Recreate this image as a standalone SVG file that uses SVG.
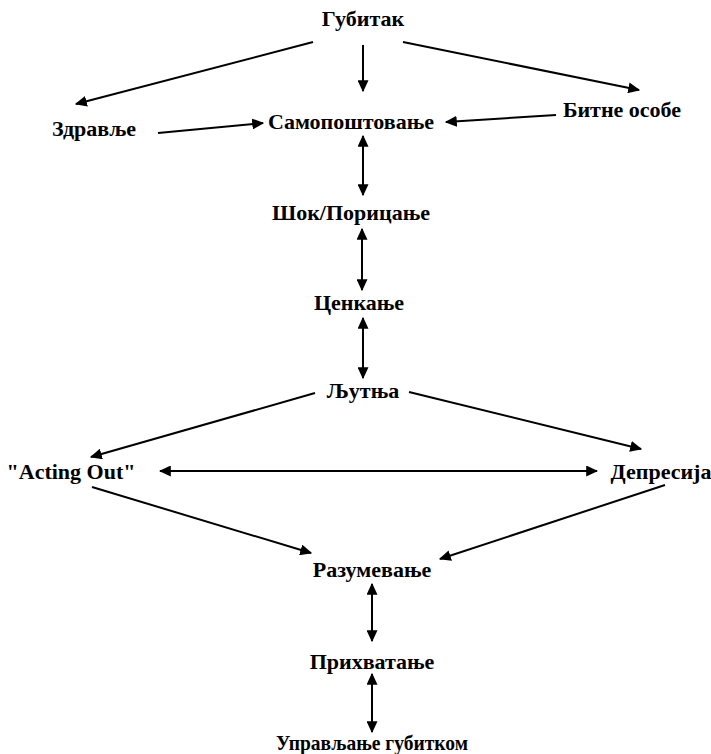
<svg xmlns="http://www.w3.org/2000/svg" width="711" height="754" viewBox="0 0 711 754">
<defs>
<style>
.t{font-family:'Liberation Serif','Times New Roman',Times,serif;font-weight:700;font-size:22px;fill:#000;text-anchor:middle}
.c line{stroke:#000;stroke-width:2;fill:none}
</style>
<marker id="ah" viewBox="0 0 10 10" refX="9" refY="5" markerWidth="6" markerHeight="5.5" orient="auto-start-reverse" markerUnits="strokeWidth" preserveAspectRatio="none">
<path d="M0,0 L10,5 L0,10 z" fill="#000"/>
</marker>
</defs>
<rect width="711" height="754" fill="#fff"/>
<g class="c" id="connectors">
<line x1="313" y1="42" x2="76" y2="104" marker-end="url(#ah)"/>
<line x1="363" y1="45" x2="363" y2="91" marker-end="url(#ah)"/>
<line x1="403" y1="42" x2="639" y2="90" marker-end="url(#ah)"/>
<line x1="158" y1="133" x2="263" y2="123" marker-end="url(#ah)"/>
<line x1="556" y1="115" x2="446" y2="122" marker-end="url(#ah)"/>
<line x1="363" y1="136" x2="363" y2="195" marker-start="url(#ah)" marker-end="url(#ah)"/>
<line x1="362" y1="229" x2="362" y2="290" marker-start="url(#ah)" marker-end="url(#ah)"/>
<line x1="363" y1="318" x2="363" y2="378" marker-start="url(#ah)" marker-end="url(#ah)"/>
<line x1="315" y1="393" x2="91" y2="457" marker-end="url(#ah)"/>
<line x1="409" y1="392" x2="641" y2="449" marker-end="url(#ah)"/>
<line x1="160" y1="471" x2="597" y2="471" marker-start="url(#ah)" marker-end="url(#ah)"/>
<line x1="92" y1="487" x2="311" y2="553" marker-end="url(#ah)"/>
<line x1="665" y1="485" x2="440" y2="559" marker-end="url(#ah)"/>
<line x1="372" y1="584" x2="372" y2="641" marker-start="url(#ah)" marker-end="url(#ah)"/>
<line x1="372" y1="674" x2="372" y2="732" marker-start="url(#ah)" marker-end="url(#ah)"/>
</g>
<g id="n-gubitak"><text class="t" x="363" y="26">Губитак</text></g>
<g id="n-zdravlje"><text class="t" x="94" y="136">Здравље</text></g>
<g id="n-samopostovanje"><text class="t" x="351" y="129">Самопоштовање</text></g>
<g id="n-bitne"><text class="t" x="622" y="117">Битне особе</text></g>
<g id="n-sok"><text class="t" x="351" y="220">Шок/Порицање</text></g>
<g id="n-cenkanje"><text class="t" x="359" y="310">Ценкање</text></g>
<g id="n-ljutnja"><text class="t" x="363" y="398">Љутња</text></g>
<g id="n-acting"><text class="t" x="71" y="479">"Acting Out"</text></g>
<g id="n-depresija"><text class="t" x="661" y="479">Депресија</text></g>
<g id="n-razumevanje"><text class="t" x="372" y="577">Разумевање</text></g>
<g id="n-prihvatanje"><text class="t" x="372" y="669">Прихватање</text></g>
<g id="n-upravljanje"><text class="t" x="372" y="750" textLength="192" lengthAdjust="spacingAndGlyphs">Управљање губитком</text></g>
</svg>
